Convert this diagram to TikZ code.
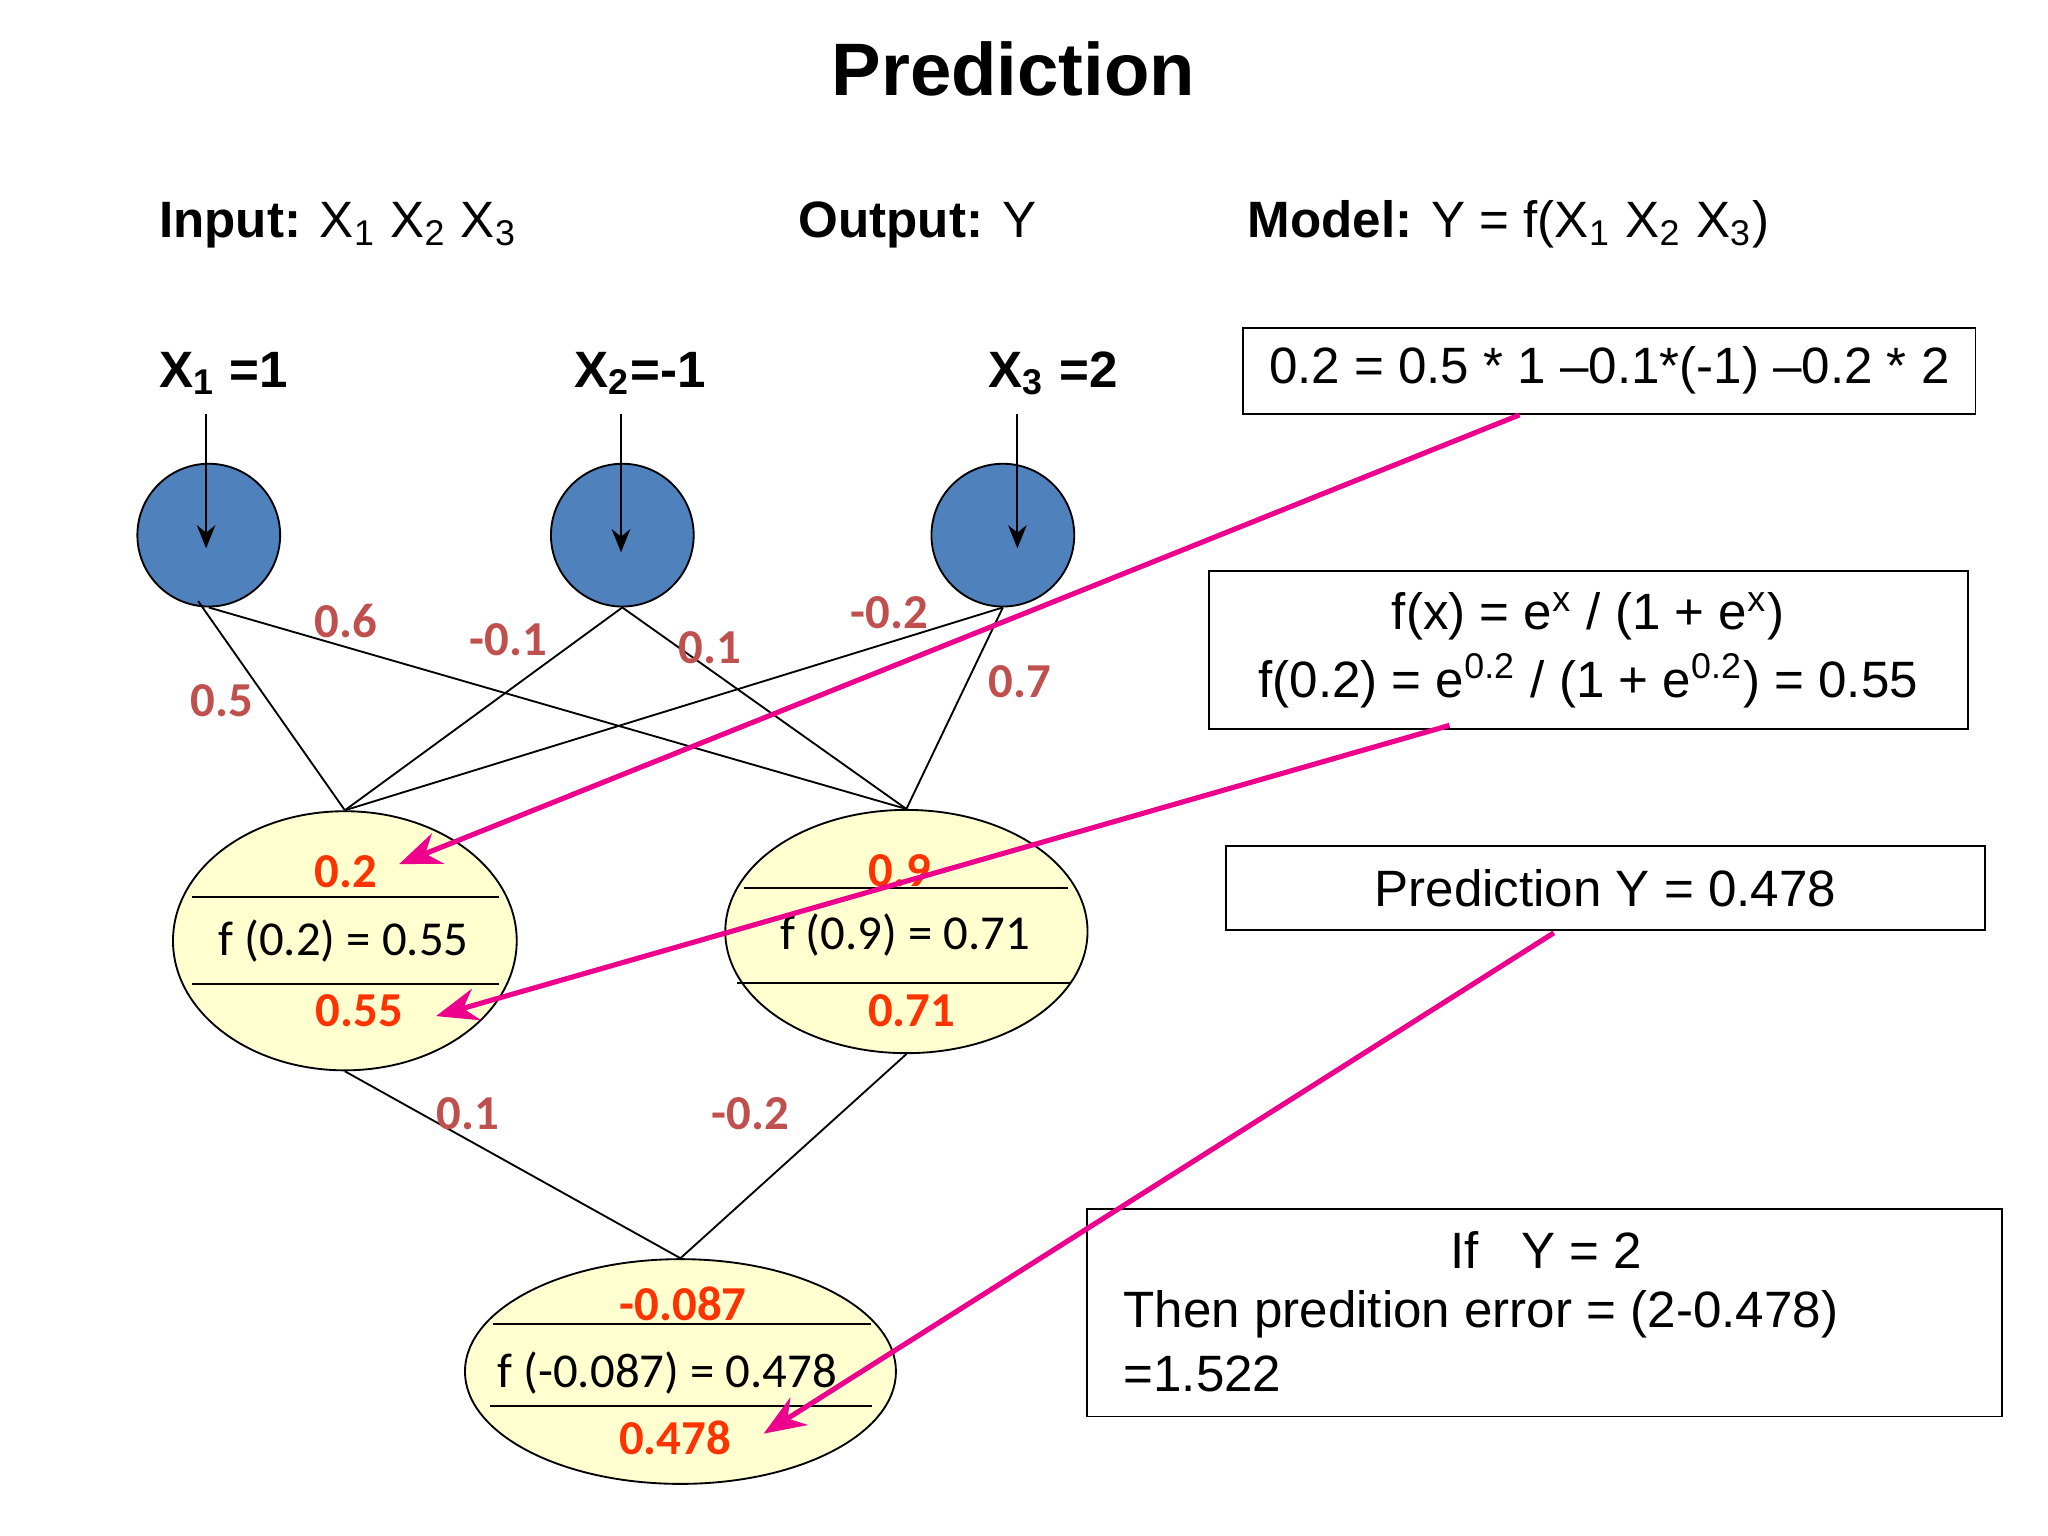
\documentclass[tikz,border=0pt]{standalone}
\usepackage{fontspec}
\setmainfont{Liberation Sans}
\newfontfamily\carlitofont{Carlito}
\usetikzlibrary{shapes.geometric,arrows.meta}
\definecolor{cblue}{HTML}{4F81BD}
\definecolor{wred}{HTML}{C0504D}
\definecolor{ored}{HTML}{FF3300}
\definecolor{lyel}{HTML}{FFFFD0}
\begin{document}
\begin{tikzpicture}[x=0.01cm,y=-0.01cm,
  inp/.style={circle,draw,fill=cblue,minimum size=1.05cm,inner sep=0},
  hid/.style={ellipse,draw,fill=lyel,inner sep=0},
  w/.style={font=\carlitofont\fontsize{10.5}{12}\selectfont\bfseries,text=wred},
  red/.style={font=\carlitofont\fontsize{10.5}{12}\selectfont\bfseries,text=ored},
  ft/.style={font=\carlitofont\fontsize{10.5}{12}\selectfont},
  box/.style={draw,inner sep=0},
  bt/.style={font=\fontsize{11}{13.5}\selectfont},
  mag/.style={draw=magenta,line width=1.1pt,-{Stealth[length=9pt,width=7pt]}},
  ar/.style={-{Stealth[length=5pt,width=4pt]}}]
\useasboundingbox (0,0) rectangle (1550,1162);
\node[font=\fontsize{16}{19}\selectfont\bfseries] (title) at (767,52) {Prediction};
\node[bt,anchor=base west] (inl) at (108,180) {\textbf{Input:} X\textsubscript{1} X\textsubscript{2} X\textsubscript{3}};
\node[bt,anchor=base west] (outl) at (592,180) {\textbf{Output:} Y};
\node[bt,anchor=base west] (modl) at (932,180) {\textbf{Model:} Y = f(X\textsubscript{1} X\textsubscript{2} X\textsubscript{3})};
\node[bt,anchor=base west,font=\fontsize{11}{13}\selectfont\bfseries] (x1) at (108,293) {X\textsubscript{1} =1};
\node[bt,anchor=base west,font=\fontsize{11}{13}\selectfont\bfseries] (x2) at (422,293) {X\textsubscript{2}=-1};
\node[bt,anchor=base west,font=\fontsize{11}{13}\selectfont\bfseries] (x3) at (736,293) {X\textsubscript{3} =2};
\node[inp,minimum width=1.08cm,minimum height=1.04cm] (c1) at (158,405) {};
\node[inp,minimum width=1.08cm,minimum height=1.04cm] (c2) at (471,405) {};
\node[inp,minimum width=1.08cm,minimum height=1.04cm] (c3) at (759,405) {};
\coordinate (a1) at (156,313); \coordinate (e1) at (156,415);
\coordinate (a2) at (470,313); \coordinate (e2) at (470,418);
\coordinate (a3) at (770,313); \coordinate (e3) at (770,415);
\draw[ar] (a1) -- (e1); \draw[ar] (a2) -- (e2); \draw[ar] (a3) -- (e3);
\node[hid,minimum width=2.6cm,minimum height=1.96cm] (h1) at (261,712) {};
\node[hid,minimum width=2.74cm,minimum height=1.84cm] (h2) at (686,705) {};
\node[hid,minimum width=3.26cm,minimum height=1.7cm] (o) at (515,1038) {};
\coordinate (c1b) at (150,455);
\draw (c1b) -- (h1.north); \draw (c1.south) -- (h2.north);
\draw (c2.south) -- (h1.north); \draw (c2.south) -- (h2.north);
\draw (c3.south) -- (h1.north); \draw (c3.south) -- (h2.north);
\draw (h1.south) -- (o.north); \draw (h2.south) -- (o.north);
\node[w] (w1) at (168,530) {0.5};
\node[w] (w2) at (262,470) {0.6};
\node[w] (w3) at (385,484) {-0.1};
\node[w] (w4) at (537,490) {0.1};
\node[w] (w5) at (673,464) {-0.2};
\node[w] (w6) at (772,516) {0.7};
\node[w] (w7) at (354,843) {0.1};
\node[w] (w8) at (568,843) {-0.2};
\node[red] (h1a) at (262,660) {0.2};
\draw (145,679) -- (378,679);
\node[ft] (h1b) at (260,712) {f (0.2) = 0.55};
\draw (145,745) -- (378,745);
\node[red] (h1c) at (272,765) {0.55};
\node[red] (h2a) at (681,659) {0.9};
\draw (563,672) -- (808,672);
\node[ft] (h2b) at (685,708) {f (0.9) = 0.71};
\draw (558,744) -- (810,744);
\node[red] (h2c) at (690,765) {0.71};
\node[red] (oa) at (517,987) {-0.087};
\draw (373,1002) -- (659,1002);
\node[ft] (ob) at (505,1039) {f (-0.087) = 0.478};
\draw (371,1064) -- (660,1064);
\node[red] (oc) at (511,1088) {0.478};
\node[box,bt,minimum width=5.54cm,minimum height=0.65cm] (b1) at (1218,280.5) {0.2 = 0.5 * 1 –0.1*(-1) –0.2 * 2};
\node[box,bt,minimum width=5.74cm,minimum height=1.2cm,align=center] (b2) at (1202,492) {f(x) = e\textsuperscript{x} / (1 + e\textsuperscript{x})\\[1pt] f(0.2) = e\textsuperscript{0.2} / (1 + e\textsuperscript{0.2}) = 0.55};
\node[box,bt,minimum width=5.74cm,minimum height=0.64cm] (b3) at (1215,672) {Prediction Y = 0.478};
\node[box,minimum width=6.92cm,minimum height=1.57cm] (b4) at (1169,993.5) {};
\node[bt] (b4a) at (1170,946) {If \ \ Y = 2};
\node[bt,anchor=west] (b4b) at (838,995) {Then predition error = (2-0.478)};
\node[bt,anchor=west] (b4c) at (838,1040) {=1.522};
\coordinate (m1) at (1150,314); \coordinate (t1) at (302,654);
\coordinate (m2) at (1097,549); \coordinate (t2) at (330,769);
\coordinate (m3) at (1176,706); \coordinate (t3) at (578,1085);
\draw[mag] (m1) -- (t1);
\draw[mag] (m2) -- (t2);
\draw[mag] (m3) -- (t3);
\end{tikzpicture}
\end{document}
